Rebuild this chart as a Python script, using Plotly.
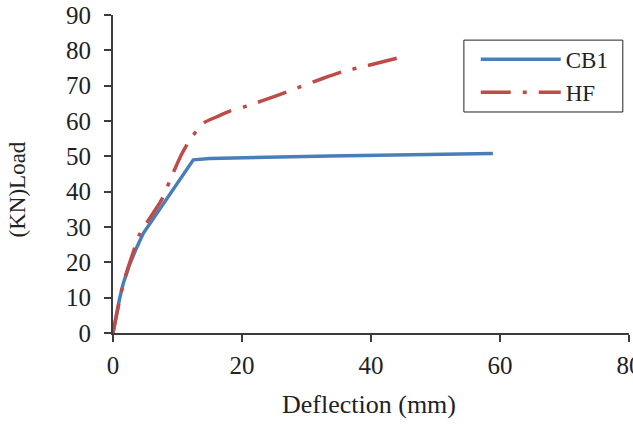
import plotly.graph_objects as go

# Data
cb1_x = [0, 0.5, 1.0, 1.6, 2.5, 3.5, 4.7, 12.45, 15, 33.6, 58.9]
cb1_y = [0, 5, 9.5, 14.1, 19, 23.5, 28.2, 49, 49.4, 50.1, 50.8]

hf_x = [0, 0.8, 1.6, 4.2, 5.7, 7.5, 9.3, 10.5, 11.9, 14.0, 16.1, 18.1, 20.7, 25.4, 28.5, 32.6, 35.7, 38.8, 45.0]
hf_y = [0, 7.4, 14.1, 28.2, 32.5, 37.6, 45.2, 50.1, 54.6, 59.4, 61.2, 62.8, 64.2, 67.2, 69.3, 72.1, 74.0, 75.4, 78.2]

x_ticks = [0, 20, 40, 60, 80]
y_ticks = [0, 10, 20, 30, 40, 50, 60, 70, 80, 90]

FONT = "Liberation Serif"
TXT = "#222222"

fig = go.Figure()
fig.add_trace(go.Scatter(x=cb1_x, y=cb1_y, mode="lines", name="CB1",
                         line=dict(color="#4a7ebb", width=3.5)))
fig.add_trace(go.Scatter(x=hf_x, y=hf_y, mode="lines", name="HF",
                         line=dict(color="#be4b48", width=3.5, shape="spline", smoothing=0.6,
                                   dash="30px,12px,4px,12px")))

axis_common = dict(showgrid=False, zeroline=False, showline=True,
                   linecolor="#3c3c3c", linewidth=2, ticks="outside",
                   ticklen=7, tickwidth=2, tickcolor="#3c3c3c",
                   ticklabeloverflow="allow", automargin=False,
                   tickfont=dict(family=FONT, size=25, color=TXT))

fig.update_layout(
    width=633, height=424,
    margin=dict(l=113, r=4, t=15, b=91),
    plot_bgcolor="white", paper_bgcolor="white",
    font=dict(family=FONT, size=24, color=TXT),
    xaxis=dict(range=[0, 80], tickvals=x_ticks, ticklabelstandoff=2, **axis_common),
    yaxis=dict(range=[0, 90], tickvals=y_ticks, ticklabelstandoff=8, **axis_common),
    legend=dict(x=0.703, y=0.928, xanchor="left", yanchor="top",
                borderwidth=0, bgcolor="rgba(0,0,0,0)",
                itemwidth=80, font=dict(family=FONT, size=23, color=TXT)),
    showlegend=True,
    shapes=[dict(type="rect", xref="paper", yref="paper",
                 x0=0.680, x1=0.988, y0=0.695, y1=0.921,
                 line=dict(color="#222222", width=1), fillcolor="rgba(0,0,0,0)")],
    annotations=[
        dict(text="Deflection (mm)", xref="paper", yref="paper", x=0.496, y=-0.225,
             xanchor="center", yanchor="middle", showarrow=False,
             font=dict(family=FONT, size=26, color=TXT)),
        dict(text="(KN)Load", xref="paper", yref="paper", x=-0.185, y=0.45,
             xanchor="center", yanchor="middle", showarrow=False, textangle=-90,
             font=dict(family=FONT, size=23, color=TXT)),
    ],
)

fig.write_html("out.html")
